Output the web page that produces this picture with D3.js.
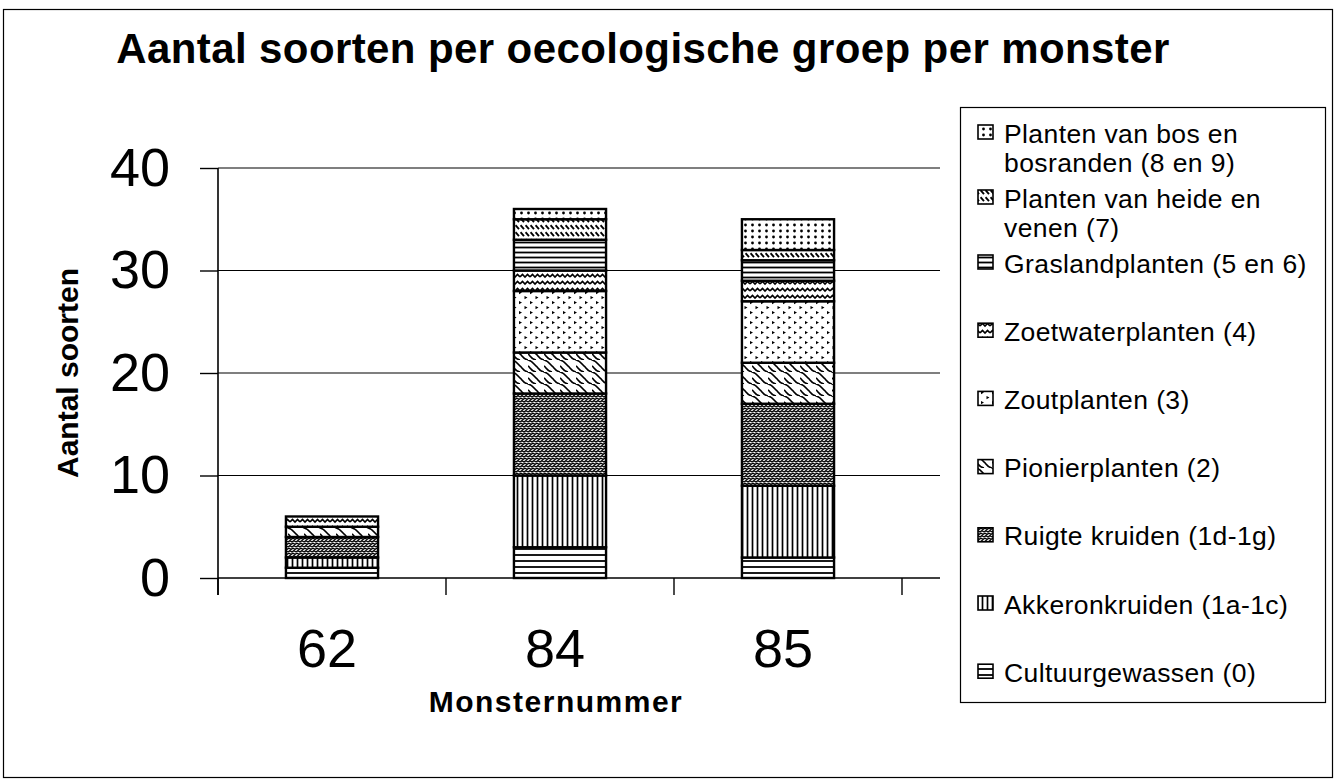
<!DOCTYPE html>
<html>
<head>
<meta charset="utf-8">
<script src="https://cdn.jsdelivr.net/npm/d3@7"></script>
<style>
  body { margin: 0; background: #fff; }
  text { font-family: "Liberation Sans", Arial, sans-serif; fill: #000; }
</style>
</head>
<body>
<svg id="chart" width="1336" height="783"></svg>
<script>
// samples on the x axis
var samples = ["62", "84", "85"];

// ecological groups, bottom of the stack first
var groups = [
  "Cultuurgewassen (0)",
  "Akkeronkruiden (1a-1c)",
  "Ruigte kruiden (1d-1g)",
  "Pionierplanten (2)",
  "Zoutplanten (3)",
  "Zoetwaterplanten (4)",
  "Graslandplanten (5 en 6)",
  "Planten van heide en venen (7)",
  "Planten van bos en bosranden (8 en 9)"
];

// number of species per group, one value per sample
var cultuur = [1, 3, 2];
var akker   = [1, 7, 7];
var ruigte  = [2, 8, 8];
var pionier = [1, 4, 4];
var zout    = [0, 6, 6];
var zoet    = [1, 2, 2];
var gras    = [0, 3, 2];
var heide   = [0, 2, 1];
var bos     = [0, 1, 3];

var yTicks = [0, 10, 20, 30, 40];

var series = [cultuur, akker, ruigte, pionier, zout, zoet, gras, heide, bos];
var rows = samples.map(function(s, i) {
  var r = { sample: s };
  groups.forEach(function(g, k) { r[g] = series[k][i]; });
  return r;
});

var svg = d3.select("#chart");
var defs = svg.append("defs");

// black and white fill patterns, like the old printed chart
function pattern(id, w, h, draw) {
  var p = defs.append("pattern")
      .attr("id", id)
      .attr("patternUnits", "userSpaceOnUse")
      .attr("width", w)
      .attr("height", h);
  p.append("rect").attr("width", w).attr("height", h).attr("fill", "#fff");
  draw(p);
}
function line(p, d, sw) {
  p.append("path").attr("d", d).attr("fill", "none").attr("stroke", "#000").attr("stroke-width", sw);
}

pattern("p0", 8, 6, p => line(p, "M0,3H8", 1.8));
pattern("p1", 5, 8, p => line(p, "M2.5,0V8", 1.7));
pattern("p2", 8, 5, p => {
  line(p, "M0,2 L2,0.6 L4,2 L6,0.6 L8,2", 1.4);
  line(p, "M-1,4.4 L1,3.2 L3,4.4 L5,3.2 L7,4.4 L9,3.2", 1.4);
});
pattern("p3", 16, 12, p => {
  line(p, "M0,0 C5,1 6,5 8,6 C10,7 11,11 16,12", 1.6);
  line(p, "M8,-6 C13,-5 14,-1 16,0", 1.6);
  line(p, "M0,6 C2,7 3,11 8,12", 1.6);
});
pattern("p4", 11, 10, p => {
  p.append("path").attr("d", "M2,1 l3,1.6 l-3,1.6z M7.5,6 l3,1.6 l-3,1.6z").attr("fill", "#000");
});
pattern("p5", 10, 7, p => line(p, "M0,4 L2.5,1.5 L5,4 L7.5,1.5 L10,4", 1.6));
pattern("p6", 8, 5, p => line(p, "M0,2.5H8", 1.8));
pattern("p7", 5, 7, p => line(p, "M0.5,1.2 L4,5.2", 1.9));
pattern("p8", 7, 6, p => {
  p.append("circle").attr("cx", 3.5).attr("cy", 3).attr("r", 1.4).attr("fill", "#000");
});

var fills = {};
groups.forEach(function(g, k) { fills[g] = "url(#p" + k + ")"; });

// layout
var plotLeft = 218, plotRight = 940, barsRight = 902, plotTop = 168, plotBottom = 578;

var x = d3.scaleBand()
    .domain(samples)
    .range([plotLeft, barsRight])
    .paddingInner(0.596)
    .paddingOuter(0.298);

var y = d3.scaleLinear()
    .domain([0, 40])
    .range([plotBottom, plotTop]);

// outer frame
svg.append("rect")
    .attr("x", 3.5).attr("y", 9.5)
    .attr("width", 1329).attr("height", 768)
    .attr("fill", "none").attr("stroke", "#000").attr("stroke-width", 1.2);

svg.append("text")
    .attr("x", 643).attr("y", 63)
    .attr("text-anchor", "middle")
    .attr("font-size", 42).attr("font-weight", "bold")
    .attr("letter-spacing", 0.4)
    .text("Aantal soorten per oecologische groep per monster");

// gridlines
svg.append("g")
  .selectAll("line")
  .data(yTicks.filter(d => d > 0))
  .join("line")
    .attr("x1", plotLeft).attr("x2", plotRight)
    .attr("y1", d => y(d)).attr("y2", d => y(d))
    .attr("stroke", "#000").attr("stroke-width", 1.2);

// y axis
var yAxis = svg.append("g")
    .attr("transform", "translate(" + plotLeft + ",0)")
    .call(d3.axisLeft(y).tickValues(yTicks).tickSize(18).tickPadding(30));
yAxis.select(".domain").attr("stroke-width", 1.6).attr("d", "M0," + plotTop + "V" + (plotBottom + 17));
yAxis.selectAll(".tick line").attr("stroke-width", 1.4);
yAxis.selectAll("text")
    .attr("font-size", 54)
    .attr("font-family", "'Liberation Sans', Arial, sans-serif");

// x axis line and category ticks
svg.append("line")
    .attr("x1", plotLeft).attr("x2", plotRight)
    .attr("y1", plotBottom).attr("y2", plotBottom)
    .attr("stroke", "#000").attr("stroke-width", 1.6);
svg.append("g")
  .selectAll("line")
  .data(d3.range(samples.length + 1))
  .join("line")
    .attr("x1", i => plotLeft + i * x.step())
    .attr("x2", i => plotLeft + i * x.step())
    .attr("y1", plotBottom).attr("y2", plotBottom + 17)
    .attr("stroke", "#000").attr("stroke-width", 1.4);

svg.append("g")
  .selectAll("text")
  .data(samples)
  .join("text")
    .attr("x", d => x(d) + x.bandwidth() / 2 - 5)
    .attr("y", 667)
    .attr("text-anchor", "middle")
    .attr("font-size", 54)
    .text(d => d);

// stacked bars
var stacked = d3.stack().keys(groups)(rows);

svg.append("g")
  .selectAll("g")
  .data(stacked)
  .join("g")
    .attr("fill", d => fills[d.key])
  .selectAll("rect")
  .data(d => d.filter(s => s[1] > s[0]))
  .join("rect")
    .attr("x", d => x(d.data.sample))
    .attr("y", d => y(d[1]))
    .attr("width", x.bandwidth())
    .attr("height", d => y(d[0]) - y(d[1]))
    .attr("stroke", "#000")
    .attr("stroke-width", 2.4);

// axis titles
svg.append("text")
    .attr("transform", "translate(78,373) rotate(-90)")
    .attr("text-anchor", "middle")
    .attr("font-size", 30).attr("font-weight", "bold")
    .text("Aantal soorten");

svg.append("text")
    .attr("x", 556).attr("y", 712)
    .attr("text-anchor", "middle")
    .attr("font-size", 30).attr("font-weight", "bold")
    .attr("letter-spacing", 1.5)
    .text("Monsternummer");

// legend, top entry is the top of the stack
var legend = svg.append("g");
legend.append("rect")
    .attr("x", 960.5).attr("y", 107.5)
    .attr("width", 365).attr("height", 595)
    .attr("fill", "#fff").attr("stroke", "#000").attr("stroke-width", 1.2);

var maxWidth = 322;
var rowY = 133;
groups.slice().reverse().forEach(function(g) {
  var item = legend.append("g");
  item.append("rect")
      .attr("x", 978).attr("y", rowY - 8)
      .attr("width", 15).attr("height", 14)
      .attr("fill", fills[g])
      .attr("stroke", "#000").attr("stroke-width", 1.6);
  var t = item.append("text")
      .attr("x", 1004).attr("y", rowY)
      .attr("font-size", 26.5)
      .attr("letter-spacing", 0.4);
  // wrap long names over two lines
  var words = g.split(" "), lineWords = [], lines = [];
  words.forEach(function(w) {
    t.text(lineWords.concat(w).join(" "));
    if (t.node().getComputedTextLength() > maxWidth && lineWords.length) {
      lines.push(lineWords.join(" "));
      lineWords = [w];
    } else {
      lineWords.push(w);
    }
  });
  lines.push(lineWords.join(" "));
  t.text(null);
  lines.forEach(function(l, i) {
    t.append("tspan")
        .attr("x", 1004)
        .attr("dy", i ? 29 : "0.36em")
        .text(l);
  });
  rowY += lines.length > 1 ? 65 : 68.2;
});
</script>
</body>
</html>
